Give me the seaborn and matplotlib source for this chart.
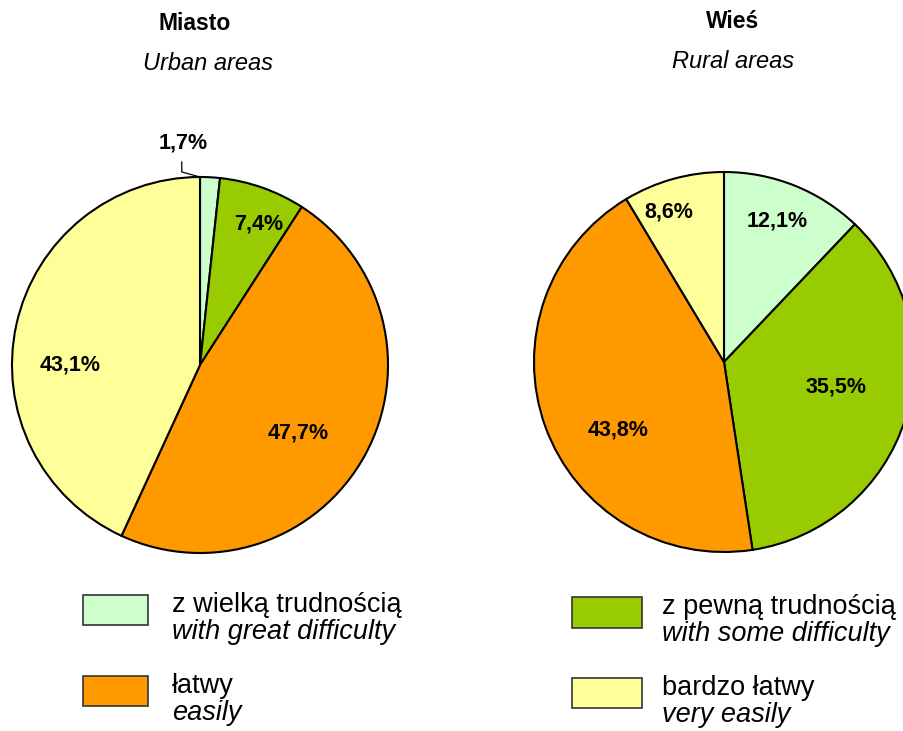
import numpy as np
import matplotlib
matplotlib.use("Agg")
import matplotlib.pyplot as plt
from matplotlib.patches import Rectangle
import seaborn as sns

sns.set_theme(style="white")
plt.rcParams['font.family'] = ['Liberation Sans', 'DejaVu Sans']
plt.rcParams['text.color'] = 'black'

# ---- data ----
categories_pl = ["z wielką trudnością", "z pewną trudnością", "łatwy", "bardzo łatwy"]
categories_en = ["with great difficulty", "with some difficulty", "easily", "very easily"]
urban_values = [1.7, 7.4, 47.7, 43.1]
rural_values = [12.1, 35.5, 43.8, 8.6]
titles_pl = ["Miasto", "Wieś"]
titles_en = ["Urban areas", "Rural areas"]

colors = ["#CCFFCC", "#99CC00", "#FF9900", "#FFFF99"]

W, H = 904, 731
fig = plt.figure(figsize=(W / 100, H / 100), dpi=100)
fig.patch.set_facecolor("white")


def fx(px):
    return px / W


def fy(py):
    return 1 - py / H


def pie_axes(cx, cy, r):
    ax = fig.add_axes([fx(cx - r), fy(cy + r), 2 * r / W, 2 * r / H])
    ax.set_xlim(-1, 1)
    ax.set_ylim(-1, 1)
    ax.set_axis_off()
    return ax


# label positions (layout, in pie-radius units)
urban_label_pos = [(-0.09, 1.18), (0.31, 0.75), (0.52, -0.36), (-0.69, 0.0)]
rural_label_pos = [(0.28, 0.74), (0.59, -0.13), (-0.56, -0.36), (-0.29, 0.79)]


def fmt(v):
    return f"{v:.1f}".replace(".", ",") + "%"


def draw_pie(ax, values, label_pos):
    wedges, _ = ax.pie(np.array(values), colors=colors, startangle=90, counterclock=False,
                       radius=1.0, center=(0, 0), frame=False,
                       wedgeprops=dict(edgecolor="black", linewidth=1.5))
    ax.set_xlim(-1, 1)
    ax.set_ylim(-1, 1)
    ax.set_aspect("auto")
    for v, (lx, ly) in zip(values, label_pos):
        ax.text(lx, ly, fmt(v), ha="center", va="center", fontsize=15.5,
                fontweight="bold", color="black", clip_on=False)
    return wedges


axL = pie_axes(200, 365, 188)
wL = draw_pie(axL, urban_values, urban_label_pos)
# leader line for the tiny slice
axL.plot([0.0, -0.097, -0.097], [1.0, 1.027, 1.081],
         color="black", linewidth=0.9, clip_on=False)

axR = pie_axes(724, 362, 190)
draw_pie(axR, rural_values, rural_label_pos)

# titles
fig.text(fx(195), fy(23), titles_pl[0], ha="center", va="center", fontsize=16.5,
         fontweight="bold", color="black")
fig.text(fx(208), fy(63), titles_en[0], ha="center", va="center", fontsize=17,
         style="italic", color="black")
fig.text(fx(733), fy(21), titles_pl[1], ha="center", va="center", fontsize=16.5,
         fontweight="bold", color="black")
fig.text(fx(733), fy(61), titles_en[1], ha="center", va="center", fontsize=17,
         style="italic", color="black")

# legend (manual, two-line labels): idx, box x, box y, box w, box h, text x
legend_layout = [
    (0, 83, 595, 65, 30, 172),
    (2, 83, 676, 65, 30, 172),
    (1, 572, 597, 70, 31, 662),
    (3, 572, 678, 70, 30, 662),
]
for idx, bx, by, bw, bh, tx in legend_layout:
    fig.patches.append(Rectangle((fx(bx), fy(by + bh)), bw / W, bh / H,
                                 transform=fig.transFigure, facecolor=colors[idx],
                                 edgecolor="#333333", linewidth=1.2))
    fig.text(fx(tx), fy(by + 10), categories_pl[idx], ha="left", va="center", fontsize=19.5,
             color="black")
    fig.text(fx(tx), fy(by + 37), categories_en[idx], ha="left", va="center", fontsize=19.5,
             style="italic", color="black")

fig.savefig("out.png", dpi=100, facecolor="white")
